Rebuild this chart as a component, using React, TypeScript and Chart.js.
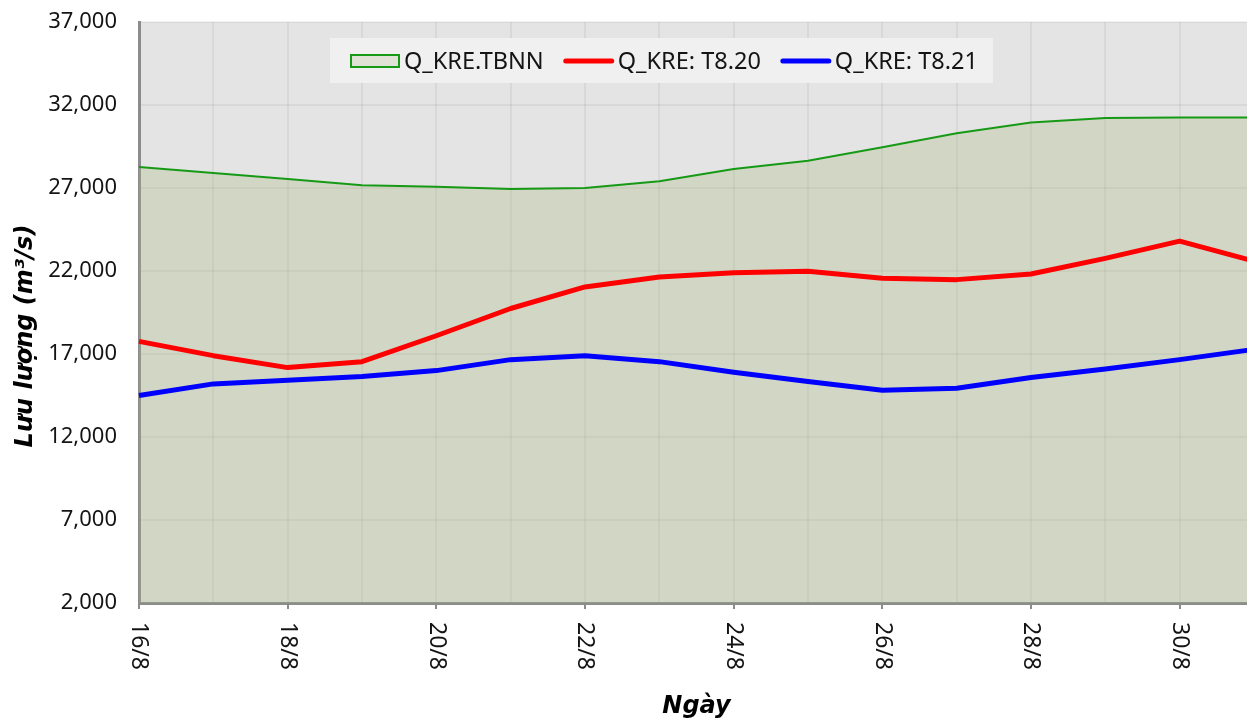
import React, { useEffect, useRef } from "react";
import { Chart, registerables } from "chart.js";

Chart.register(...registerables);

const days: string[] = [
  "16/8", "17/8", "18/8", "19/8", "20/8", "21/8", "22/8", "23/8",
  "24/8", "25/8", "26/8", "27/8", "28/8", "29/8", "30/8", "31/8",
];

const tbnn: number[] = [
  28260, 27900, 27540, 27160, 27080, 26940, 27000, 27400,
  28140, 28640, 29460, 30300, 30940, 31220, 31240, 31240,
];

const t820: number[] = [
  17760, 16900, 16180, 16540, 18100, 19740, 21040, 21640,
  21900, 21980, 21560, 21480, 21820, 22760, 23800, 22600,
];

const t821: number[] = [
  14500, 15200, 15420, 15640, 16000, 16660, 16900, 16540,
  15900, 15340, 14820, 14940, 15580, 16100, 16660, 17280,
];

const seriesNames: string[] = ["Q_KRE.TBNN", "Q_KRE: T8.20", "Q_KRE: T8.21"];
const yTickMin = 2000;
const yTickMax = 37000;
const yTickStep = 5000;
const xTitle = "Ngày";
const yTitle = "Lưu lượng (m³/s)";

const TICK_FONT = "'Noto Sans', 'DejaVu Sans', sans-serif";
const TITLE_FONT = "'DejaVu Sans', sans-serif";
const TEXT_COLOR = "#141414";
const AXIS_COLOR = "#8c8c8c";
const GRID_COLOR = "rgba(0,0,0,0.05)";

const bgPlugin = {
  id: "plotBg",
  beforeDraw(chart: any) {
    const { ctx, chartArea } = chart;
    ctx.save();
    ctx.fillStyle = "#e4e4e4";
    ctx.fillRect(chartArea.left, chartArea.top, chartArea.right - chartArea.left, chartArea.bottom - chartArea.top);
    ctx.restore();
  },
};

const textPlugin = {
  id: "xLabelsAndTitle",
  afterDraw(chart: any) {
    const { ctx, chartArea } = chart;
    const xs = chart.scales.x;
    ctx.save();
    ctx.font = `23px ${TICK_FONT}`;
    ctx.fillStyle = TEXT_COLOR;
    ctx.textAlign = "left";
    ctx.textBaseline = "middle";
    days.forEach((d, i) => {
      if (i % 2 !== 0) return;
      const x = xs.getPixelForValue(i);
      ctx.save();
      ctx.translate(x, xs.top + 19);
      ctx.rotate(Math.PI / 2);
      ctx.fillText(d, 0, 0);
      ctx.restore();
    });
    // y axis title
    ctx.save();
    ctx.font = `italic bold 24px ${TITLE_FONT}`;
    ctx.fillStyle = "#000";
    ctx.textAlign = "center";
    ctx.textBaseline = "middle";
    ctx.translate(chartArea.left - 113, chartArea.top + 314);
    ctx.rotate(-Math.PI / 2);
    ctx.fillText(yTitle, 0, 0);
    ctx.restore();
    ctx.restore();
  },
};

const legendPlugin = {
  id: "customLegend",
  afterDatasetsDraw(chart: any) {
    const { ctx, chartArea } = chart;
    ctx.save();
    ctx.font = `23.5px ${TICK_FONT}`;
    const left0 = chartArea.left + 191;
    const top0 = chartArea.top + 16;
    const h = 45;
    const cy = top0 + 23;
    const symW = 50;
    const widths = seriesNames.map((n) => ctx.measureText(n).width);
    let total = 20;
    widths.forEach((w, i) => {
      total += symW + 4 + w + (i < widths.length - 1 ? 20 : 15);
    });
    ctx.fillStyle = "#f0f0f0";
    ctx.fillRect(left0, top0, total, h);
    let x = left0 + 20;
    const colors = ["#169a16", "#ff0000", "#0000ff"];
    seriesNames.forEach((n, i) => {
      if (i === 0) {
        ctx.fillStyle = "#dfe2d4";
        ctx.fillRect(x + 1, cy - 6, symW - 2, 12);
        ctx.strokeStyle = colors[0];
        ctx.lineWidth = 2;
        ctx.strokeRect(x + 1, cy - 6, symW - 2, 12);
      } else {
        ctx.strokeStyle = colors[i];
        ctx.lineWidth = 5;
        ctx.lineCap = "round";
        ctx.beginPath();
        ctx.moveTo(x + 2, cy);
        ctx.lineTo(x + symW - 2, cy);
        ctx.stroke();
      }
      ctx.fillStyle = TEXT_COLOR;
      ctx.textAlign = "left";
      ctx.textBaseline = "middle";
      ctx.fillText(n, x + symW + 4, cy + 1);
      x += symW + 4 + widths[i] + 20;
    });
    ctx.restore();
  },
};

export default function App() {
  const ref = useRef<HTMLCanvasElement | null>(null);

  useEffect(() => {
    if (!ref.current) return;
    const chart = new Chart(ref.current, {
      type: "line",
      data: {
        labels: days,
        datasets: [
          {
            label: seriesNames[1],
            data: t820,
            borderColor: "#ff0000",
            borderWidth: 5,
            pointRadius: 0,
            tension: 0,
            fill: false,
            borderJoinStyle: "round",
          },
          {
            label: seriesNames[2],
            data: t821,
            borderColor: "#0000ff",
            borderWidth: 5,
            pointRadius: 0,
            tension: 0,
            fill: false,
            borderJoinStyle: "round",
          },
          {
            label: seriesNames[0],
            data: tbnn,
            borderColor: "#169a16",
            backgroundColor: "rgba(168,181,125,0.3)",
            borderWidth: 2,
            pointRadius: 0,
            tension: 0,
            fill: "start",
          },
        ],
      },
      options: {
        animation: false,
        responsive: false,
        devicePixelRatio: 1,
        layout: { padding: { top: 22, right: 4, bottom: 0, left: 0 } },
        plugins: {
          legend: { display: false },
          tooltip: { enabled: false },
        },
        scales: {
          x: {
            type: "category",
            offset: false,
            afterFit(scale: any) {
              scale.height = 118;
              scale.paddingLeft = 0;
              scale.paddingRight = 0;
            },
            grid: {
              color: GRID_COLOR,
              lineWidth: 2,
              drawTicks: true,
              tickLength: 6,
              tickWidth: 2,
              tickColor: (c: any) => (c.index % 2 === 0 ? AXIS_COLOR : "rgba(0,0,0,0)"),
            },
            border: { color: AXIS_COLOR, width: 3 },
            ticks: { display: false, autoSkip: false },
            title: {
              display: true,
              text: xTitle,
              color: "#000",
              font: { family: TITLE_FONT, size: 24, weight: "bold", style: "italic" },
              padding: { top: 0, bottom: 0 },
            },
          },
          y: {
            min: yTickMin,
            max: yTickMax,
            afterFit(scale: any) {
              scale.width = 139;
              scale.paddingTop = 0;
              scale.paddingBottom = 0;
            },
            ticks: {
              stepSize: yTickStep,
              color: TEXT_COLOR,
              padding: 22,
              font: { family: TICK_FONT, size: 22 },
              callback: (v: any) => Number(v).toLocaleString("en-US"),
            },
            grid: { color: GRID_COLOR, lineWidth: 2, drawTicks: false },
            border: { color: AXIS_COLOR, width: 3 },
            title: { display: false },
          },
        },
      },
      plugins: [bgPlugin, legendPlugin, textPlugin],
    });
    return () => chart.destroy();
  }, []);

  return (
    <div
      style={{
        position: "fixed",
        left: 0,
        top: 0,
        width: 1247,
        height: 721,
        overflow: "hidden",
        background: "#ffffff",
      }}
    >
      <canvas ref={ref} width={1258} height={721} style={{ display: "block" }} />
    </div>
  );
}
